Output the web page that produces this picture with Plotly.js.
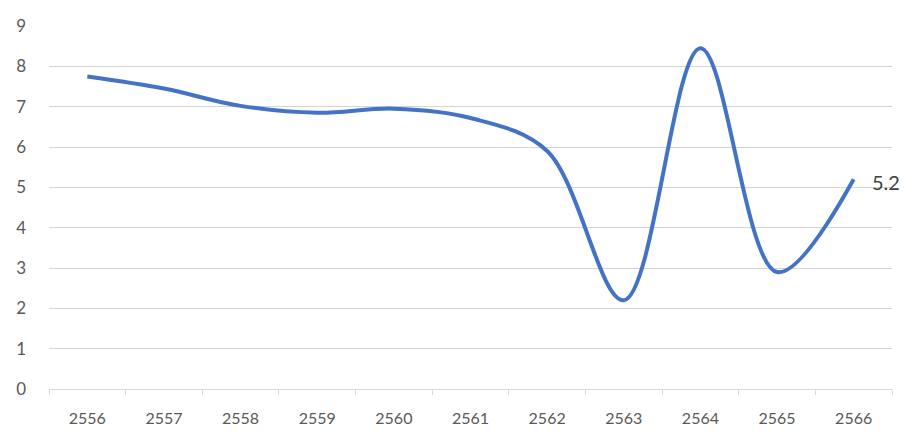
<!DOCTYPE html>
<html>
<head>
<meta charset="utf-8">
<script src="https://cdn.plot.ly/plotly-3.0.1.min.js"></script>
<style>html,body{margin:0;padding:0;background:#fff;}#chart{width:915px;height:445px;}</style>
</head>
<body>
<div id="chart"></div>
<script>
const years = ["2556","2557","2558","2559","2560","2561","2562","2563","2564","2565","2566"];
const values = [7.75, 7.45, 7.02, 6.85, 6.95, 6.72, 5.9, 2.2, 8.45, 2.9, 5.2];
const yTicks = [0,1,2,3,4,5,6,7,8,9];

const lastIdx = values.length - 1;

const trace = {
  x: years,
  y: values,
  type: "scatter",
  mode: "lines",
  line: {color: "#4472C4", width: 4, shape: "spline", smoothing: 1},
  hoverinfo: "x+y"
};

const layout = {
  width: 915,
  height: 445,
  margin: {l: 49, r: 23, t: 26, b: 56},
  paper_bgcolor: "#ffffff",
  plot_bgcolor: "#ffffff",
  showlegend: false,
  font: {family: "Lato, 'Open Sans', sans-serif", color: "#595959"},
  xaxis: {
    type: "category",
    categoryorder: "array",
    categoryarray: years,
    range: [-0.5, years.length - 0.5],
    showgrid: false,
    showline: true,
    linecolor: "#d9d9d9",
    linewidth: 1,
    ticks: "outside",
    tickson: "boundaries",
    ticklen: 5,
    tickcolor: "#d9d9d9",
    tickfont: {size: 16, color: "#595959"},
    tickangle: 0,
    ticklabelstandoff: 15,
    zeroline: false,
    fixedrange: true
  },
  yaxis: {
    range: [0, 9],
    tickvals: yTicks,
    ticktext: yTicks.map(String),
    showgrid: true,
    gridcolor: "#d4d4d4",
    gridwidth: 1,
    showline: false,
    zeroline: false,
    ticks: "",
    tickfont: {size: 17, color: "#595959"},
    ticklabelstandoff: 22,
    fixedrange: true
  },
  annotations: [{
    x: lastIdx,
    y: values[lastIdx],
    xref: "x",
    yref: "y",
    text: String(values[lastIdx]),
    showarrow: false,
    xanchor: "left",
    yanchor: "middle",
    xshift: 16,
    yshift: -3,
    font: {family: "Lato, 'Open Sans', sans-serif", size: 20, color: "#404040"}
  }]
};

Plotly.newPlot("chart", [trace], layout, {displayModeBar: false, staticPlot: true});
</script>
</body>
</html>
